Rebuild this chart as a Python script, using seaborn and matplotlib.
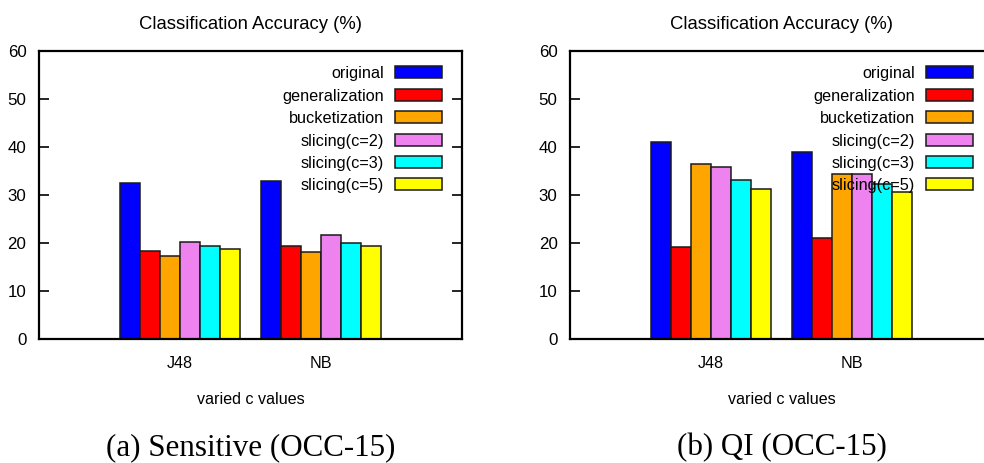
import numpy as np
import pandas as pd
import matplotlib
matplotlib.use("Agg")
import matplotlib.pyplot as plt
from matplotlib import font_manager
from matplotlib.patches import Rectangle
import seaborn as sns

# ---- data ----
classifiers = ["J48", "NB"]
methods = ["original", "generalization", "bucketization",
           "slicing(c=2)", "slicing(c=3)", "slicing(c=5)"]
sensitive_j48 = [32.6, 18.3, 17.3, 20.2, 19.4, 18.7]
sensitive_nb = [32.9, 19.3, 18.2, 21.6, 19.9, 19.4]
qi_j48 = [41.0, 19.2, 36.4, 35.8, 33.2, 31.3]
qi_nb = [39.0, 21.0, 34.4, 34.3, 32.2, 30.6]
colors = ["#0000ff", "#ff0000", "#ffa500", "#ee82ee", "#00ffff", "#ffff00"]
yticks = [0, 10, 20, 30, 40, 50, 60]
panel_title = "Classification Accuracy (%)"
xlabel = "varied c values"
captions = ["(a) Sensitive (OCC-15)", "(b) QI (OCC-15)"]

sns.set_theme(style="white")
names = {f.name for f in font_manager.fontManager.ttflist}
if "Liberation Sans Narrow" in names:
    sans = ["Liberation Sans Narrow", "DejaVu Sans"]
    k = 1.0
else:
    sans = ["Liberation Sans", "DejaVu Sans"]
    k = 0.82
serif = ["Liberation Serif", "DejaVu Serif"]
plt.rcParams["font.family"] = sans
plt.rcParams["text.color"] = "black"
plt.rcParams["axes.labelcolor"] = "black"
plt.rcParams["xtick.color"] = "black"
plt.rcParams["ytick.color"] = "black"


def make_df(j48, nb):
    rows = []
    for clf, vals in zip(classifiers, [j48, nb]):
        for m, v in zip(methods, vals):
            rows.append({"clf": clf, "method": m, "acc": v})
    return pd.DataFrame(rows)


fig = plt.figure(figsize=(9.84, 4.63), dpi=100)
W, H = 984, 463
ax_w, ax_h = 423, 288
top_px = 51
lefts = [39, 570]
datasets = [(sensitive_j48, sensitive_nb), (qi_j48, qi_nb)]

for i, (left, (j48, nb)) in enumerate(zip(lefts, datasets)):
    ax = fig.add_axes([left / W, (H - top_px - ax_h) / H, ax_w / W, ax_h / H])
    df = make_df(j48, nb)
    sns.barplot(data=df, x="clf", y="acc", hue="method", hue_order=methods,
                order=classifiers, palette=colors, width=0.845, gap=0,
                edgecolor="#1a1a1a", linewidth=1.1, saturation=1, ax=ax,
                legend=False, errorbar=None)
    for p in ax.patches:
        p.set_zorder(2)
    ax.set_xlim(-1, 2)
    ax.set_ylim(0, 60)
    ax.set_yticks(yticks)
    ax.set_yticklabels([str(t) for t in yticks])
    ax.tick_params(axis="y", direction="in", length=7, width=1.2,
                   left=True, right=(i == 0), labelsize=14.8 * k, pad=9,
                   colors="black")
    ax.tick_params(axis="x", length=0, labelsize=14.2 * k, pad=12,
                   colors="black")
    ax.set_xlabel(xlabel, fontsize=14.2 * k, labelpad=15, color="black")
    ax.set_ylabel("")
    for s in ax.spines.values():
        s.set_visible(True)
        s.set_color("black")
        s.set_linewidth(1.6)
    ax.set_title(panel_title, fontsize=16.3 * k, pad=16, color="black")

    # legend in gnuplot style: right-aligned text, swatch on the right
    y0 = 0.926
    dy = 0.0778
    for j, (m, c) in enumerate(zip(methods, colors)):
        yc = y0 - j * dy
        ax.add_patch(Rectangle((0.8416, yc - 0.0208), 0.1104, 0.0417,
                               transform=ax.transAxes, facecolor=c,
                               edgecolor="#1a1a1a", linewidth=1.1,
                               zorder=5, clip_on=False))
        ax.text(0.8156, yc, m, transform=ax.transAxes, ha="right",
                va="center_baseline", fontsize=14.3 * k, zorder=6,
                color="black")

    fig.text((left + ax_w / 2) / W, 1 - 448 / H, captions[i],
             ha="center", va="center", fontsize=22.3, family=serif,
             color="black")

fig.savefig("out.png", dpi=100)
